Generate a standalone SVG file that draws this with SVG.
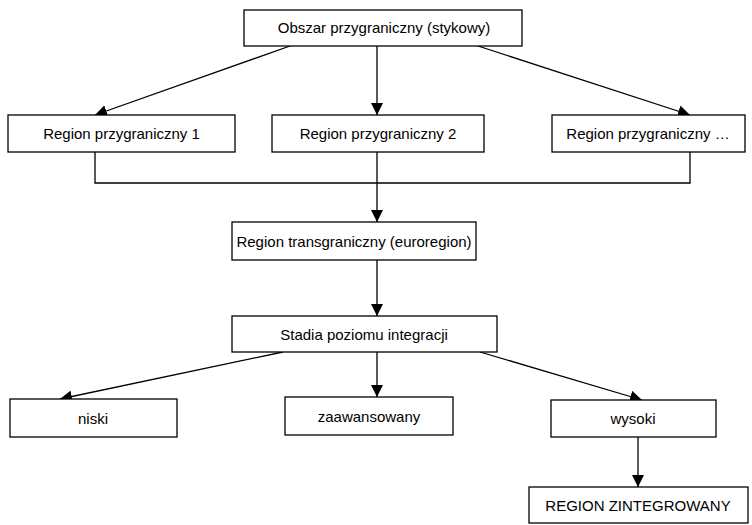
<svg xmlns="http://www.w3.org/2000/svg" width="752" height="525" viewBox="0 0 752 525">
<style>
.box{fill:#fff;stroke:#000;stroke-width:1.3}
.t{font-family:"Liberation Sans",Arial,sans-serif;font-size:15px;fill:#000;text-anchor:middle}
.c{fill:none;stroke:#000;stroke-width:1.3}
</style>
<defs>
<marker id="ah" markerWidth="12" markerHeight="12" viewBox="0 0 12 12" refX="12" refY="6" orient="auto" markerUnits="userSpaceOnUse">
<path d="M0,0 L12,6 L0,12 z" fill="#000"/>
</marker>
</defs>
<rect width="752" height="525" fill="#fff"/>
<g id="connectors">
<line class="c" x1="290" y1="46" x2="95" y2="115" marker-end="url(#ah)"/>
<line class="c" x1="377" y1="46" x2="377" y2="115" marker-end="url(#ah)"/>
<line class="c" x1="478" y1="46" x2="690" y2="115" marker-end="url(#ah)"/>
<polyline class="c" points="95,152 95,183 690,183 690,152"/>
<line class="c" x1="377" y1="152" x2="377" y2="222" marker-end="url(#ah)"/>
<line class="c" x1="377" y1="260" x2="377" y2="316" marker-end="url(#ah)"/>
<line class="c" x1="283" y1="352" x2="60" y2="399" marker-end="url(#ah)"/>
<line class="c" x1="377" y1="352" x2="377" y2="397" marker-end="url(#ah)"/>
<line class="c" x1="480" y1="352" x2="642" y2="400" marker-end="url(#ah)"/>
<line class="c" x1="638" y1="437" x2="638" y2="487" marker-end="url(#ah)"/>
</g>
<g id="obszar"><rect class="box" x="244" y="10" width="278" height="36"/><text class="t" x="384" y="33">Obszar przygraniczny (stykowy)</text></g>
<g id="region1"><rect class="box" x="8" y="115" width="227" height="37"/><text class="t" x="121.5" y="138.5">Region przygraniczny 1</text></g>
<g id="region2"><rect class="box" x="272" y="115" width="212" height="37"/><text class="t" x="378" y="138.5">Region przygraniczny 2</text></g>
<g id="region3"><rect class="box" x="552" y="115" width="193" height="37"/><text class="t" x="648" y="138.5">Region przygraniczny …</text></g>
<g id="transgraniczny"><rect class="box" x="232" y="222" width="244" height="38"/><text class="t" x="354" y="246.5">Region transgraniczny (euroregion)</text></g>
<g id="stadia"><rect class="box" x="232" y="316" width="265" height="36"/><text class="t" x="364" y="339.5">Stadia poziomu integracji</text></g>
<g id="niski"><rect class="box" x="10" y="399" width="167" height="38"/><text class="t" x="93" y="423.5">niski</text></g>
<g id="zaawansowany"><rect class="box" x="285" y="397" width="168" height="38"/><text class="t" x="369" y="421.5">zaawansowany</text></g>
<g id="wysoki"><rect class="box" x="551" y="400" width="165" height="37"/><text class="t" x="633" y="423.5">wysoki</text></g>
<g id="zintegrowany"><rect class="box" x="529" y="487" width="219" height="36"/><text class="t" x="638" y="510.5">REGION ZINTEGROWANY</text></g>
</svg>
